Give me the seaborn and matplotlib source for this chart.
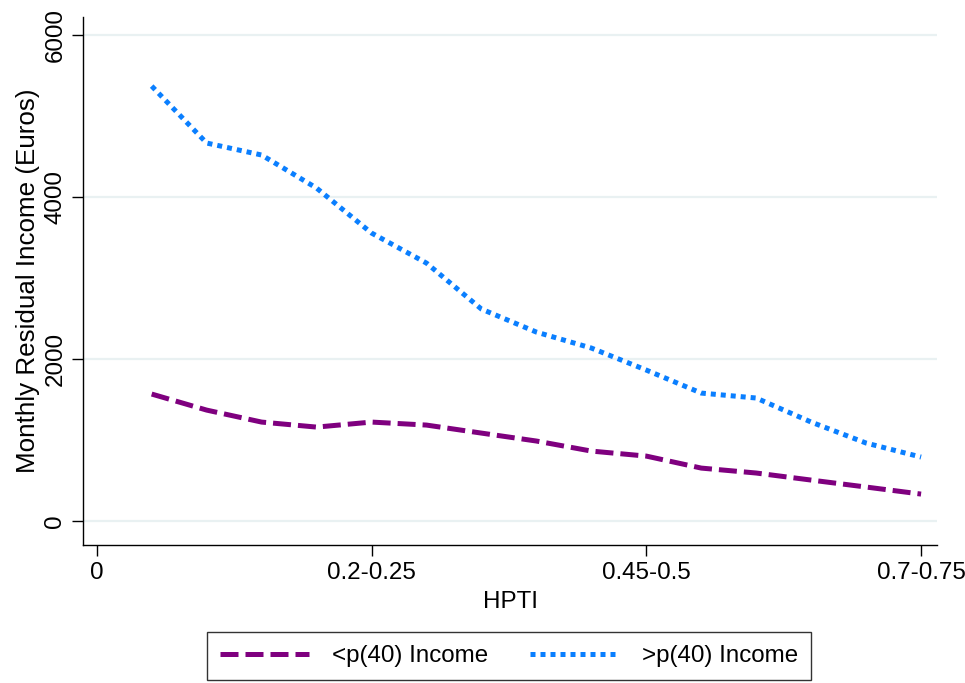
import numpy as np
import pandas as pd
import matplotlib
matplotlib.use("Agg")
import matplotlib.pyplot as plt
import seaborn as sns

# HPTI bins (housing payment to income), one point per bin
hpti_bins = ["0-0.05", "0.05-0.1", "0.1-0.15", "0.15-0.2", "0.2-0.25",
             "0.25-0.3", "0.3-0.35", "0.35-0.4", "0.4-0.45", "0.45-0.5",
             "0.5-0.55", "0.55-0.6", "0.6-0.65", "0.65-0.7", "0.7-0.75"]

# Monthly residual income (Euros) by income group
low_income = [1568, 1370, 1222, 1160, 1222, 1185, 1086, 988, 864, 802,
              654, 593, 506, 420, 333]
high_income = [5370, 4667, 4519, 4111, 3556, 3185, 2617, 2333, 2136, 1864,
               1580, 1519, 1222, 963, 790]

series_names = ["<p(40) Income", ">p(40) Income"]
tick_labels = ["0", "0.2-0.25", "0.45-0.5", "0.7-0.75"]
y_ticks = [0, 2000, 4000, 6000]

pos = np.arange(1, len(hpti_bins) + 1)
df = pd.DataFrame({
    "pos": np.concatenate([pos, pos]),
    "HPTI": hpti_bins * 2,
    "income": low_income + high_income,
    "group": [series_names[0]] * len(pos) + [series_names[1]] * len(pos),
})

sns.set_theme(style="white")
plt.rcParams["font.family"] = ["Liberation Sans", "DejaVu Sans"]
plt.rcParams["lines.dash_capstyle"] = "butt"
plt.rcParams["text.color"] = "black"
plt.rcParams["axes.labelcolor"] = "black"
plt.rcParams["xtick.color"] = "black"
plt.rcParams["ytick.color"] = "black"

FS = 17.4

fig = plt.figure(figsize=(9.65, 6.83), dpi=100)
ax = fig.add_axes([0.086, 0.202, 0.885, 0.773])

palette = {series_names[0]: "#7f007f", series_names[1]: "#0a7fff"}
dashes = {series_names[0]: (3.6, 1.4), series_names[1]: (1.0, 1.0)}

for yv in y_ticks:
    ax.axhline(yv, color="#e9f1f2", lw=1.6, zorder=0)

sns.lineplot(data=df, x="pos", y="income", hue="group", style="group",
             palette=palette, dashes=dashes, lw=3.6, ax=ax, legend=True)

ax.set_xlim(-0.25, 15.29)
ax.set_ylim(-296, 6222)
ax.set_xticks([0, 5, 10, 15])
ax.set_xticklabels(tick_labels)
ax.set_yticks(y_ticks)
ax.set_yticklabels([str(v) for v in y_ticks], rotation=90, va="center")

for side in ["top", "right"]:
    ax.spines[side].set_visible(False)
for side in ["left", "bottom"]:
    ax.spines[side].set_color("black")
    ax.spines[side].set_linewidth(1.0)

ax.tick_params(axis="both", which="major", direction="out", length=8,
               width=1.0, color="black", labelcolor="black", labelsize=FS,
               pad=4, left=True, bottom=True)
ax.set_xlabel("HPTI", fontsize=FS, labelpad=5, color="black")
ax.set_ylabel("Monthly Residual Income (Euros)", fontsize=18.7, labelpad=3,
              color="black")

handles, labels = ax.get_legend_handles_labels()
leg = ax.legend(handles, labels, loc="center", bbox_to_anchor=(0.5275, 0.0395),
                bbox_transform=fig.transFigure, ncol=2, frameon=True,
                fancybox=False, edgecolor="black", fontsize=FS,
                handlelength=3.7, handletextpad=0.95, columnspacing=1.7,
                borderpad=0.55, borderaxespad=0)
leg.get_frame().set_linewidth(1.0)
for txt in leg.get_texts():
    txt.set_color("black")
for line in leg.get_lines():
    line.set_linewidth(3.6)

fig.savefig("out.png", dpi=100)
